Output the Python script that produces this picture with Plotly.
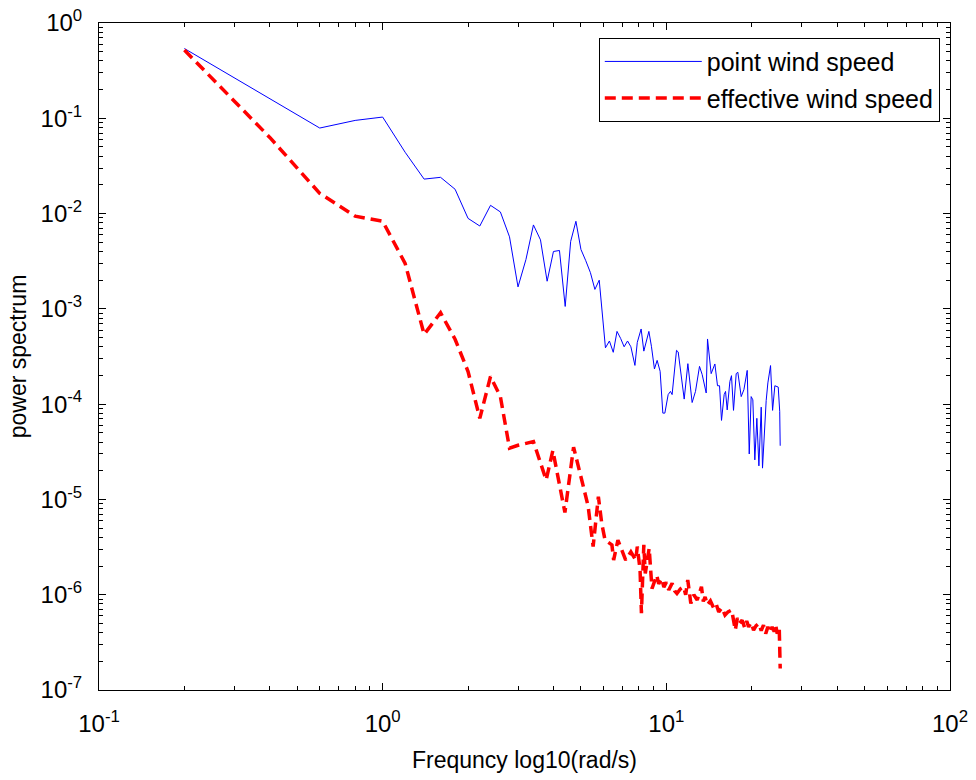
import plotly.graph_objects as go

# ---- data (frequency in rad/s, power spectrum) ----
point_freq = [0.2, 0.4, 0.6, 0.8, 1.0, 1.2, 1.4, 1.6, 1.8, 2.0, 2.2, 2.4, 2.6, 2.8, 3.0,
              3.2, 3.4, 3.6, 3.8, 4.0, 4.2, 4.4, 4.6, 4.8, 5.0, 5.2, 5.4, 5.6, 5.8,
              6.1, 6.3, 6.5, 6.7, 6.9, 7.1, 7.3, 7.5, 7.75, 7.9, 8.15, 8.33, 8.68, 8.86,
              9.08, 9.28, 9.51, 9.72, 9.88, 10.15, 10.34, 10.48, 10.86, 11.01, 11.56,
              11.91, 12.33, 12.67, 13.09, 13.38, 13.82, 13.97, 14.39, 14.83, 15.15,
              15.4, 15.65, 15.99, 16.17, 16.39, 16.75, 16.97, 17.25, 17.63, 17.87,
              18.36, 18.77, 19.28, 19.6, 19.91, 20.18, 20.51, 20.85, 21.2, 21.6, 21.83,
              22.49, 22.8, 23.3, 23.69, 24.13, 24.53, 24.8, 25.1, 25.2]
point_psd = [0.54, 0.16, 0.079, 0.095, 0.103, 0.044, 0.023, 0.024, 0.018, 0.0089, 0.0074,
             0.0122, 0.0104, 0.0057, 0.0017, 0.0033, 0.0076, 0.0053, 0.00195, 0.0040,
             0.0041, 0.00106, 0.0051, 0.0083, 0.0042, 0.0032, 0.0024, 0.0016, 0.0020,
             3.9e-4, 4.6e-4, 3.5e-4, 5.8e-4, 4.9e-4, 4.0e-4, 4.6e-4, 4.0e-4, 2.55e-4,
             4.45e-4, 6.15e-4, 3.6e-4, 5.8e-4, 4.05e-4, 2.34e-4, 2.88e-4, 2.21e-4,
             8.05e-5, 8.05e-5, 1.26e-4, 1.36e-4, 1.26e-4, 3.67e-4, 3.53e-4, 1.13e-4,
             2.66e-4, 1.04e-4, 1.36e-4, 2.49e-4, 2.04e-4, 1.31e-4, 4.83e-4, 2.09e-4,
             2.64e-4, 1.56e-4, 1.56e-4, 6.75e-5, 1.26e-4, 1.36e-4, 8.7e-5, 1.73e-4,
             1.99e-4, 8.6e-5, 2.09e-4, 2.16e-4, 1.2e-4, 1.42e-4, 2.26e-4, 3.0e-5,
             1.2e-4, 1.11e-4, 2.6e-5, 7.1e-5, 2.25e-5, 9.3e-5, 2.13e-5, 1.09e-4,
             1.67e-4, 2.54e-4, 8.6e-5, 1.56e-4, 1.51e-4, 1.51e-4, 8.4e-5, 3.66e-5]

eff_freq = [0.2, 0.4, 0.6, 0.8, 1.0, 1.2, 1.4, 1.6, 1.8, 2.0, 2.2, 2.4, 2.6, 2.8, 3.0, 3.2,
            3.4, 3.77, 3.98, 4.39, 4.71, 5.1, 5.3, 5.52, 5.76, 5.92, 6.08, 6.43, 6.52,
            6.75, 7.19, 7.5, 7.8, 7.9, 8.08, 8.17, 8.33, 8.43, 8.7, 8.9, 9.25, 9.4, 9.63,
            9.8, 10.0, 10.2, 10.48, 10.7, 10.9, 11.2, 11.5, 11.7, 11.9, 12.2, 12.5, 12.85,
            13.1, 13.3, 13.5, 13.7, 13.94, 14.3, 14.7, 15.0, 15.3, 15.7, 16.1, 16.5, 17.0,
            17.2, 17.5, 17.8, 18.1, 18.5, 18.9, 19.2, 19.5, 19.9, 20.3, 20.7, 21.2, 21.6,
            22.0, 22.4, 22.8, 23.2, 23.6, 24.0, 24.3, 24.6, 24.8, 25.0, 25.2]
eff_psd = [0.52, 0.063, 0.0163, 0.0094, 0.0083, 0.0030, 5.4e-4, 9.1e-4, 4.8e-4, 2.2e-4,
           7.1e-5, 1.95e-4, 1.2e-4, 3.45e-5, 3.7e-5, 3.9e-5, 4.05e-5, 1.6e-5, 3.26e-5,
           7.3e-6, 3.54e-5, 1.36e-5, 8.5e-6, 3.2e-6, 1.07e-5, 5.6e-6, 3.75e-6, 3.33e-6,
           2.31e-6, 3.75e-6, 2.31e-6, 2.82e-6, 2.31e-6, 3.2e-6, 1.82e-6, 6.4e-7, 3.33e-6,
           1.67e-6, 3.07e-6, 1.16e-6, 1.6e-6, 1.3e-6, 1.48e-6, 1.2e-6, 1.35e-6, 1.12e-6,
           1.32e-6, 1.1e-6, 1.03e-6, 1.15e-6, 1.21e-6, 1.0e-6, 1.43e-6, 8.1e-7, 1.0e-6,
           8.8e-7, 1.05e-6, 1.21e-6, 8.5e-7, 9.5e-7, 7.8e-7, 8.6e-7, 7.2e-7, 7.9e-7,
           6.6e-7, 7.3e-7, 6.1e-7, 6.6e-7, 6.9e-7, 5.6e-7, 4.25e-7, 5.7e-7, 5.0e-7,
           5.4e-7, 4.5e-7, 5.3e-7, 4.6e-7, 5.1e-7, 4.25e-7, 4.7e-7, 5.0e-7, 4.2e-7,
           4.8e-7, 3.9e-7, 4.6e-7, 4.0e-7, 4.6e-7, 4.1e-7, 4.8e-7, 3.9e-7, 4.5e-7,
           4.6e-7, 1.68e-7]

x_tickvals = [0.1, 1, 10, 100]
x_ticktext = ["10<sup>-1</sup>", "10<sup>0</sup>", "10<sup>1</sup>", "10<sup>2</sup>"]
y_tickvals = [1e-7, 1e-6, 1e-5, 1e-4, 1e-3, 1e-2, 1e-1, 1]
y_ticktext = ["10<sup>-7</sup>", "10<sup>-6</sup>", "10<sup>-5</sup>", "10<sup>-4</sup>",
              "10<sup>-3</sup>", "10<sup>-2</sup>", "10<sup>-1</sup>", "10<sup>0</sup>"]
minor_digits = [2, 3, 4, 5, 6, 7, 8, 9]
x_minor = [d * t for t in [0.1, 1, 10] for d in minor_digits]
y_minor = [d * t for t in [1e-7, 1e-6, 1e-5, 1e-4, 1e-3, 1e-2, 1e-1] for d in minor_digits]

FONT = "Liberation Sans, Arial, sans-serif"

fig = go.Figure()
fig.add_trace(go.Scatter(x=point_freq, y=point_psd, mode="lines", name="point wind speed",
                         legendgroup="a",
                         line=dict(color="#0000ff", width=1)))
fig.add_trace(go.Scatter(x=eff_freq, y=eff_psd, mode="lines", name="effective wind speed",
                         legendgroup="b",
                         line=dict(color="#ff0000", width=3.5, dash="11px,6px")))

axis_common = dict(
    type="log", showline=True, linecolor="black", linewidth=1, mirror="allticks",
    ticks="inside", ticklen=7, tickcolor="black", showgrid=False, zeroline=False,
    automargin=False, ticklabeloverflow="allow",
    tickfont=dict(family=FONT, size=24, color="black"),
)

fig.update_xaxes(range=[-1, 2], tickvals=x_tickvals, ticktext=x_ticktext,
                 minor=dict(tickmode="array", tickvals=x_minor, ticks="inside", ticklen=4,
                            tickcolor="black", showgrid=False),
                 ticklabelstandoff=12,
                 title=dict(text="Frequncy log10(rad/s)", font=dict(family=FONT, size=23, color="black"),
                            standoff=16),
                 **axis_common)
fig.update_yaxes(range=[-7, 0], tickvals=y_tickvals, ticktext=y_ticktext,
                 minor=dict(tickmode="array", tickvals=y_minor, ticks="inside", ticklen=4,
                            tickcolor="black", showgrid=False),
                 ticklabelstandoff=11,
                 title=dict(text="power spectrum", font=dict(family=FONT, size=23, color="black"),
                            standoff=7),
                 **axis_common)

fig.update_layout(
    width=976, height=780,
    margin=dict(l=99, r=26, t=23, b=90),
    plot_bgcolor="white", paper_bgcolor="white",
    font=dict(family=FONT, color="black"),
    legend=dict(x=0.988, y=0.978, xanchor="right", yanchor="top",
                bordercolor="black", borderwidth=1, bgcolor="white",
                tracegroupgap=1, itemwidth=97,
                font=dict(family=FONT, size=25, color="black")),
)

fig.write_html("out.html", config={"displayModeBar": False},
               post_script="document.body.style.margin='0px';")
